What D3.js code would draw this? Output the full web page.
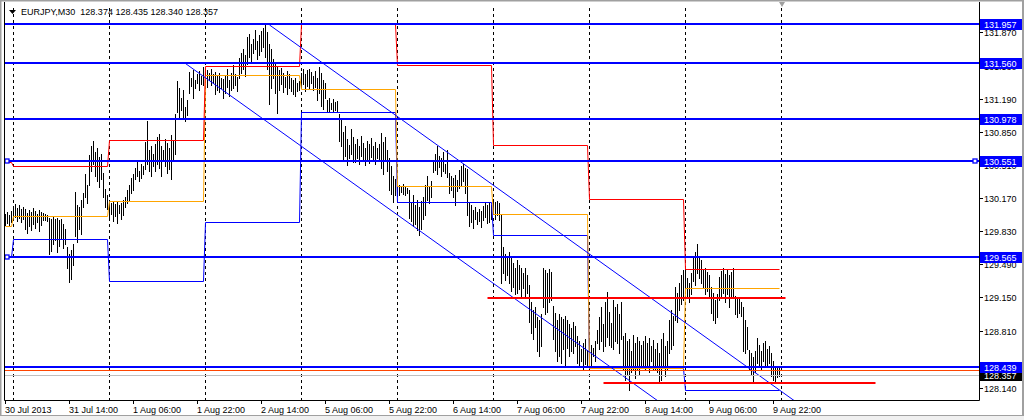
<!DOCTYPE html>
<html lang="en">
<meta charset="utf-8">
<style>
  body { margin: 0; background: #f0f0f0; }
  svg { display: block; }
  text { font-family: "Liberation Sans", Arial, sans-serif; font-size: 9px; }
</style>
<body>
<script src="https://d3js.org/d3.v7.min.js"></script>
<script>
// EURJPY M30, 30 Jul 22:00 .. 9 Aug 23:30 (bar 0 .. 387)
var symbol = "EURJPY,M30";
var lastOHLC = [128.374, 128.435, 128.340, 128.357];

var highs = [
  130.01,130.03,130.00,130.04,
  130.09,130.11,130.07,130.10,130.06,130.08,
  130.06,130.02,130.05,130.03,130.07,130.04,130.01,130.05,130.03,130.02,
  130.01,130.00,129.97,
  129.96,129.98,129.95,129.97,129.94,129.96,129.90,129.85,
  129.67,129.60,129.64,129.70,
  130.23,130.10,130.08,130.15,
  130.22,130.42,130.30,
  130.61,130.70,130.76,130.64,130.68,130.59,130.62,
  130.43,130.26,130.20,
  130.15,130.12,130.14,130.11,130.13,130.10,130.12,130.15,
  130.18,130.25,130.30,130.38,130.42,
  130.48,130.54,130.45,130.52,130.50,
  130.75,130.96,130.66,130.70,130.62,
  130.72,130.80,130.83,130.70,130.66,130.78,130.74,130.68,130.82,130.76,
  131.03,131.37,131.30,131.20,131.28,131.10,131.18,
  131.46,131.40,131.48,131.38,131.44,131.47,131.42,131.52,
  131.50,131.48,131.45,131.49,131.44,
  131.46,131.42,131.45,131.40,
  131.39,131.42,131.50,131.38,131.45,131.54,131.44,131.41,
  131.61,131.66,131.70,131.64,
  131.82,131.85,131.75,131.80,131.90,131.78,131.84,131.88,131.92,131.95,131.87,
  131.75,131.70,131.60,131.55,131.52,
  131.48,131.51,131.45,131.41,131.47,131.44,131.40,
  131.38,131.40,131.35,131.37,
  131.45,131.50,131.44,131.48,131.50,131.46,131.42,131.47,
  131.40,131.52,131.45,131.38,131.35,
  131.18,131.20,131.15,131.19,131.16,131.17,
  131.03,130.98,
  130.85,130.91,130.78,130.71,130.88,130.80,
  130.72,130.78,130.70,130.81,130.74,130.68,130.76,130.72,130.79,130.70,130.75,130.68,130.73,
  130.84,130.75,130.80,130.66,
  130.58,130.50,130.40,130.37,
  130.33,130.30,130.28,130.31,130.29,130.27,
  130.25,130.12,130.20,130.10,130.15,130.08,130.14,130.18,
  130.30,130.40,130.28,130.34,
  130.55,130.62,130.70,130.60,130.58,130.64,130.52,130.66,
  130.43,130.40,130.38,130.41,130.36,
  130.46,130.50,130.52,130.48,130.47,
  130.12,130.10,130.05,130.08,130.03,130.06,130.04,130.09,130.12,130.10,
  130.13,130.10,
  130.16,130.13,130.14,130.12,
  130.01,
  129.67,129.60,129.57,129.62,
  129.55,129.50,129.45,129.53,129.48,129.45,
  129.40,129.45,129.38,
  129.28,129.10,129.02,129.05,
  128.95,128.92,128.98,
  129.45,129.43,129.40,129.44,129.41,
  129.06,128.99,128.92,128.98,128.95,128.93,128.96,
  128.92,128.88,128.84,128.90,128.86,
  128.75,128.70,128.62,128.68,128.72,128.61,
  128.72,128.66,128.63,128.70,
  128.82,128.95,129.05,128.88,129.10,129.21,129.00,
  128.89,129.12,129.05,129.08,128.98,129.10,
  128.75,128.78,128.70,
  128.72,128.60,128.76,128.68,128.74,128.70,128.66,
  128.70,128.75,128.68,128.73,128.65,128.71,
  128.62,128.68,128.58,128.72,128.78,128.65,128.70,
  128.92,129.02,128.96,
  129.26,129.20,129.30,129.38,129.43,
  129.46,129.35,129.30,129.40,
  129.55,129.62,129.70,129.58,129.53,
  129.43,129.45,129.41,129.38,
  129.26,129.20,129.12,129.18,
  129.36,129.42,129.45,129.39,129.44,129.38,129.41,129.45,
  129.16,129.13,129.15,129.10,
  129.05,128.92,128.85,
  128.61,128.58,128.54,128.60,
  128.73,128.66,128.60,128.68,128.70,128.62,128.65,
  128.58,128.50,128.45,128.43,128.435
];

var lows = [
  129.89,129.91,129.88,129.92,
  129.96,129.98,129.93,129.97,129.92,129.95,
  129.85,129.81,129.88,129.84,129.90,129.86,129.92,129.83,129.89,129.94,
  129.94,129.93,129.60,
  129.63,129.70,129.74,129.62,129.68,129.75,129.66,129.70,
  129.45,129.31,129.34,129.48,
  129.78,129.72,129.85,129.80,
  130.08,130.18,130.12,
  130.30,130.45,130.52,130.40,130.34,130.28,130.37,
  130.18,130.08,130.06,
  129.97,130.01,129.93,129.99,129.91,130.02,129.95,130.00,
  130.08,130.12,130.15,130.22,130.25,
  130.37,130.40,130.34,130.38,130.42,
  130.47,130.52,130.45,130.40,130.50,
  130.45,130.52,130.48,130.40,130.56,130.50,130.43,130.47,130.37,130.55,
  130.62,131.05,131.00,131.07,130.98,130.96,131.02,
  131.25,131.32,131.20,131.30,131.35,131.28,131.34,131.33,
  131.36,131.31,131.38,131.33,131.35,
  131.24,131.28,131.26,131.30,
  131.20,131.25,131.31,131.22,131.28,131.30,131.33,131.27,
  131.40,131.45,131.50,131.42,
  131.55,131.62,131.58,131.66,131.70,131.60,131.64,131.68,131.72,131.62,131.50,
  131.14,131.30,131.40,131.25,131.04,
  131.28,131.34,131.26,131.31,131.24,131.30,131.27,
  131.24,131.22,131.27,131.28,
  131.30,131.34,131.27,131.32,131.29,131.35,131.28,131.31,
  131.18,131.25,131.12,131.08,131.20,
  131.05,131.06,131.08,131.05,131.07,131.05,
  130.76,130.70,
  130.55,130.60,130.51,130.58,130.62,130.54,
  130.54,130.58,130.52,130.60,130.55,130.51,130.57,130.53,130.59,130.56,130.52,130.58,130.55,
  130.48,130.42,130.55,130.45,
  130.25,130.21,130.13,130.20,
  130.22,130.20,130.23,130.21,130.20,130.22,
  129.97,129.93,129.88,129.90,129.84,129.79,129.85,129.95,
  130.00,130.15,130.12,130.18,
  130.44,130.46,130.42,130.49,130.40,130.45,130.43,130.39,
  130.22,130.25,130.18,130.10,130.24,
  130.27,130.30,130.35,130.22,130.00,
  129.88,129.92,129.86,129.95,129.90,129.93,129.87,129.94,129.98,129.91,
  129.92,129.95,
  130.03,129.96,130.00,129.94,
  129.30,
  129.40,129.33,129.38,129.30,
  129.22,129.26,129.18,129.20,129.24,129.16,
  129.25,129.16,129.20,
  128.90,128.78,128.72,128.85,
  128.60,128.55,128.65,
  129.05,128.98,129.00,129.10,129.12,
  128.72,128.60,128.50,128.55,128.48,128.62,128.46,
  128.63,128.55,128.60,128.58,128.65,
  128.48,128.44,128.50,128.42,128.47,128.44,
  128.46,128.44,128.55,128.50,
  128.68,128.62,128.70,128.60,128.65,128.74,128.66,
  128.64,128.62,128.70,128.68,128.58,128.72,
  128.42,128.30,128.35,
  128.20,128.38,128.42,128.32,128.40,128.36,128.44,
  128.44,128.40,128.46,128.38,128.50,128.42,
  128.42,128.38,128.29,128.30,128.44,128.34,128.40,
  128.58,128.62,128.66,
  128.92,128.90,129.02,129.08,129.12,
  129.20,129.14,129.10,129.18,
  129.32,129.28,129.40,129.35,129.30,
  129.25,129.18,129.22,129.15,
  128.99,128.92,128.89,128.95,
  129.12,129.15,129.20,129.10,129.18,129.05,129.14,129.16,
  128.98,128.95,128.99,128.96,
  128.60,128.58,128.62,
  128.41,128.35,128.29,128.38,
  128.48,128.45,128.40,128.50,128.44,128.46,128.48,
  128.34,128.30,128.29,128.33,128.34
];

// day boundaries (first bar of each day) and previous-day levels
var dayStarts = [0, 4, 52, 100, 148, 196, 244, 292, 340, 388];
var prevHigh  = [130.54, 130.502, 130.766, 131.526, 131.957, 131.536, 130.715, 130.160, 129.442];
var prevClose = [129.88, 129.983, 130.137, 131.433, 131.290, 130.294, 130.006, 128.422, 129.247];
var prevLow   = [129.56, 129.747, 129.315, 129.924, 131.054, 130.130, 129.791, 128.430, 128.200];

var priceTicks = [131.870, 131.530, 131.190, 130.850, 130.510, 130.170, 129.830, 129.490, 129.150, 128.810, 128.470, 128.140];
var timeLabels = ["30 Jul 2013", "31 Jul 14:00", "1 Aug 06:00", "1 Aug 22:00", "2 Aug 14:00", "5 Aug 06:00",
                  "5 Aug 22:00", "6 Aug 14:00", "7 Aug 06:00", "7 Aug 22:00", "8 Aug 14:00", "9 Aug 06:00", "9 Aug 22:00"];

// horizontal objects
var blueLevels = [131.957, 131.560, 130.978, 130.551, 129.565, 128.439];
var orangeLevel = 128.405;
var redSegments = [[241, 390, 129.144], [299, 435, 128.268]];
var trendUpper = [[132, 131.947], [292, 129.595]];
var trendLower = [[90, 131.551], [292, 128.589]];

var W = 1024, H = 420;
var plot = {left: 4, right: 979, top: 2, bottom: 400};

var svg = d3.select("body").append("svg")
    .attr("width", W)
    .attr("height", H);

var x = d3.scaleLinear().domain([0, 487]).range([5.5, 979.5]);
var y = d3.scaleLinear().domain([131.957, 128.439]).range([24, 366.65]);
function yr(v) { return Math.round(y(v)); }

svg.append("rect").attr("x", 0).attr("y", 0).attr("width", W).attr("height", 416).attr("fill", "#fff");
svg.append("rect").attr("x", 0).attr("y", 0).attr("width", W).attr("height", 1.5).attr("fill", "#a0a0a0");
svg.append("rect").attr("x", 0).attr("y", 0).attr("width", 1.5).attr("height", 416).attr("fill", "#a0a0a0");
svg.append("rect").attr("x", 1022).attr("y", 0).attr("width", 2).attr("height", 416).attr("fill", "#a0a0a0");
svg.append("rect").attr("x", 0).attr("y", 415).attr("width", W).attr("height", 1).attr("fill", "#a0a0a0");

svg.append("defs").append("clipPath").attr("id", "clip")
  .append("rect")
    .attr("x", plot.left).attr("y", plot.top)
    .attr("width", plot.right - plot.left).attr("height", plot.bottom - plot.top);

var g = svg.append("g").attr("clip-path", "url(#clip)");

// day separators
g.selectAll(".sep")
  .data(dayStarts.slice(1))
  .enter().append("line")
    .attr("class", "sep")
    .attr("x1", function (d) { return x(d); })
    .attr("x2", function (d) { return x(d); })
    .attr("y1", plot.top + 6)
    .attr("y2", plot.bottom)
    .attr("stroke", "#000")
    .attr("stroke-dasharray", "3,3")
    .attr("shape-rendering", "crispEdges");

// bars
g.selectAll(".bar")
  .data(highs)
  .enter().append("line")
    .attr("class", "bar")
    .attr("x1", function (d, i) { return x(i); })
    .attr("x2", function (d, i) { return x(i); })
    .attr("y1", function (d) { return yr(d); })
    .attr("y2", function (d, i) { return yr(lows[i]) + 1; })
    .attr("stroke", "#000")
    .attr("shape-rendering", "crispEdges");

// previous day high / close / low steps
function steps(vals) {
  var pts = [];
  vals.forEach(function (v, k) {
    pts.push([x(dayStarts[k]), yr(v) + 0.5]);
    pts.push([x(dayStarts[k + 1] - 1), yr(v) + 0.5]);
  });
  return pts;
}
var line = d3.line();
[[prevLow, "#0000ff"], [prevClose, "#ffa500"], [prevHigh, "#ff0000"]].forEach(function (s) {
  g.append("path")
    .attr("d", line(steps(s[0])))
    .attr("fill", "none")
    .attr("stroke", s[1])
    .attr("stroke-width", 1);
});

// channel lines
function ray(p) {
  var slope = (p[1][1] - p[0][1]) / (p[1][0] - p[0][0]);
  var end = 487;
  return [[x(p[0][0]), y(p[0][1])], [x(end), y(p[0][1] + slope * (end - p[0][0]))]];
}
[trendUpper, trendLower].forEach(function (t) {
  g.append("path")
    .attr("d", line(ray(t)))
    .attr("fill", "none")
    .attr("stroke", "#0000ff")
    .attr("stroke-width", 1);
});

// support / resistance
g.append("line")
  .attr("x1", plot.left).attr("x2", plot.right)
  .attr("y1", yr(orangeLevel) + 0.5).attr("y2", yr(orangeLevel) + 0.5)
  .attr("stroke", "#ff4500");
g.append("line")
  .attr("x1", plot.left).attr("x2", plot.right)
  .attr("y1", yr(lastOHLC[3]) + 0.5).attr("y2", yr(lastOHLC[3]) + 0.5)
  .attr("stroke", "#c0c0c0");

g.selectAll(".lvl")
  .data(blueLevels)
  .enter().append("line")
    .attr("class", "lvl")
    .attr("x1", plot.left).attr("x2", plot.right)
    .attr("y1", function (d) { return yr(d); })
    .attr("y2", function (d) { return yr(d); })
    .attr("stroke", "#0000ff")
    .attr("stroke-width", 2);

g.selectAll(".redseg")
  .data(redSegments)
  .enter().append("line")
    .attr("x1", function (d) { return x(d[0]); })
    .attr("x2", function (d) { return x(d[1]); })
    .attr("y1", function (d) { return yr(d[2]); })
    .attr("y2", function (d) { return yr(d[2]); })
    .attr("stroke", "#ff0000")
    .attr("stroke-width", 2);

// selection handles
[[blueLevels[3], 7], [blueLevels[3], 975], [blueLevels[4], 7]].forEach(function (h) {
  g.append("rect")
    .attr("x", h[1] - 2).attr("y", yr(h[0]) - 2)
    .attr("width", 4).attr("height", 4)
    .attr("fill", "#fff").attr("stroke", "#0000ff").attr("stroke-width", 1.3);
});

// chart shift marker
svg.append("path").attr("d", "M779,2L785,2L782,7Z").attr("fill", "#a0a0a0");

// frame
svg.append("path")
  .attr("d", "M" + (plot.left + 0.5) + "," + plot.top + "V" + (plot.bottom + 0.5) + "H" + (plot.right + 0.5) + "V" + plot.top)
  .attr("fill", "none").attr("stroke", "#000");

// price axis
var pt = svg.selectAll(".pt")
  .data(priceTicks)
  .enter().append("g")
    .attr("transform", function (d) { return "translate(0," + Math.min(yr(d), 388) + ")"; });
pt.append("line").attr("x1", plot.right).attr("x2", plot.right + 4)
  .attr("y1", 0.5).attr("y2", 0.5).attr("stroke", "#000");
pt.append("text").attr("x", 984).attr("y", 3.5).attr("fill", "#000")
  .text(function (d) { return d.toFixed(3); });

function tag(v, col) {
  var t = svg.append("g").attr("transform", "translate(0," + yr(v) + ")");
  t.append("rect").attr("x", 980).attr("y", -5).attr("width", 42).attr("height", 11).attr("fill", col);
  t.append("text").attr("x", 984).attr("y", 3.5).attr("fill", "#fff").text(v.toFixed(3));
}
tag(lastOHLC[3], "#000");
blueLevels.forEach(function (v) { tag(v, "#0000ff"); });

// time axis
var tt = svg.selectAll(".tt")
  .data(timeLabels)
  .enter().append("g")
    .attr("transform", function (d, i) { return "translate(" + x(i * 32) + ",0)"; });
tt.append("line").attr("y1", plot.bottom).attr("y2", plot.bottom + 4).attr("stroke", "#000");
tt.append("text").attr("x", -0.5).attr("y", 413).attr("fill", "#000").text(function (d) { return d; });

// title
svg.append("path").attr("d", "M9,10L16,10L12.5,14Z").attr("fill", "#000");
svg.append("text").attr("x", 21).attr("y", 15).attr("fill", "#000")
  .attr("xml:space", "preserve")
  .text(symbol + "  " + lastOHLC.map(function (v) { return v.toFixed(3); }).join(" "));
</script>
</body>
</html>
